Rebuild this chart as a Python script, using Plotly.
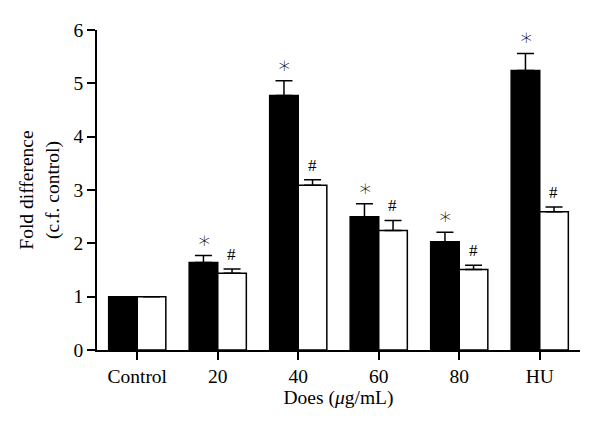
import plotly.graph_objects as go

categories = ["Control", "20", "40", "60", "80", "HU"]
black_vals = [1.0, 1.64, 4.77, 2.50, 2.03, 5.24]
black_err = [0.0, 0.13, 0.28, 0.24, 0.18, 0.32]
white_vals = [1.0, 1.44, 3.09, 2.24, 1.51, 2.59]
white_err = [0.0, 0.08, 0.10, 0.19, 0.08, 0.09]
black_marks = ["", "∗", "∗", "∗", "∗", "∗"]
white_marks = ["", "#", "#", "#", "#", "#"]
y_ticks = [0, 1, 2, 3, 4, 5, 6]

FONT = "Liberation Serif"

fig = go.Figure()
fig.add_trace(go.Bar(
    x=categories, y=black_vals, name="A",
    marker=dict(color="black", line=dict(color="black", width=1.5)),
    error_y=dict(type="data", array=black_err, arrayminus=[0] * len(black_err),
                 symmetric=False, color="black", thickness=1.5, width=8.5),
))
fig.add_trace(go.Bar(
    x=categories, y=white_vals, name="B",
    marker=dict(color="white", line=dict(color="black", width=1.5)),
    error_y=dict(type="data", array=white_err, arrayminus=[0] * len(white_err),
                 symmetric=False, color="black", thickness=1.5, width=8.5),
))

for i, c in enumerate(categories):
    if black_marks[i]:
        fig.add_annotation(x=i, y=black_vals[i] + black_err[i], text=black_marks[i],
                           xref="x", yref="y", showarrow=False, xshift=-14,
                           yanchor="bottom", yshift=1,
                           font=dict(family="DejaVu Sans", size=23, weight=200, color="black"))
    if white_marks[i]:
        fig.add_annotation(x=i, y=white_vals[i] + white_err[i], text=white_marks[i],
                           xref="x", yref="y", showarrow=False, xshift=14,
                           yanchor="bottom", yshift=3,
                           font=dict(family=FONT, size=17, color="black"))

# page body has an 8px margin; compensate so the plot area lands at x 97-580, y 30-350
fig.update_layout(
    width=600, height=429,
    margin=dict(l=89, r=28, t=22, b=87),
    paper_bgcolor="white", plot_bgcolor="white",
    barmode="group", bargap=0.29, bargroupgap=0,
    showlegend=False,
    font=dict(family=FONT, size=19.5, color="black"),
)
fig.update_xaxes(
    type="category", range=[-0.5, 5.5], showline=True, linecolor="black", linewidth=1.5,
    ticks="outside", ticklen=8, tickwidth=1.5, tickcolor="black",
    showgrid=False, zeroline=False, tickangle=0, automargin=False,
    title=dict(text="Does (<i>μ</i>g/mL)", standoff=2, font=dict(size=19.5)),
)
fig.update_yaxes(
    range=[0, 6], tickvals=y_ticks, showline=True, linecolor="black", linewidth=1.5,
    ticks="outside", ticklen=8, tickwidth=1.5, tickcolor="black",
    showgrid=False, zeroline=False, automargin=False,
    title=dict(text="Fold difference<br>(c.f. control)", standoff=9, font=dict(size=19.5)),
)

fig.write_html("out.html")
